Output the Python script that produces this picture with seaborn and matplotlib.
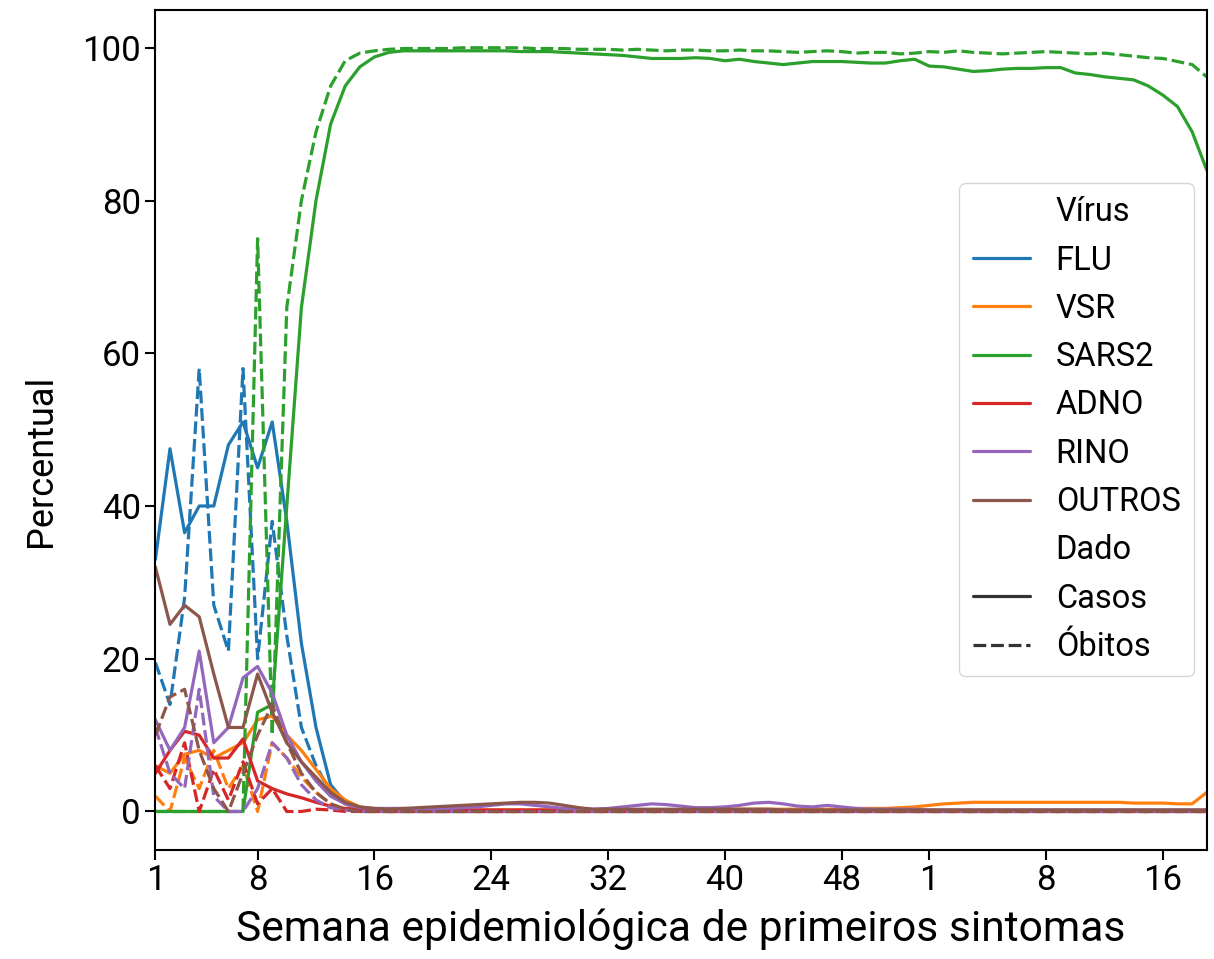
import numpy as np
import pandas as pd
import matplotlib
matplotlib.use('Agg')
import matplotlib.pyplot as plt
import seaborn as sns

# 1. Estilo
sns.set_style('ticks')
plt.rcParams['font.family'] = ['Roboto', 'DejaVu Sans']
plt.rcParams['text.color'] = 'black'
plt.rcParams['axes.labelcolor'] = 'black'
plt.rcParams['xtick.color'] = 'black'
plt.rcParams['ytick.color'] = 'black'

# 2. Dados: percentual por semana epidemiológica (2020 sem. 1 até 2021 sem. 20)
virus = ['FLU', 'VSR', 'SARS2', 'ADNO', 'RINO', 'OUTROS']
dados = ['Casos', 'Óbitos']
xtick_pos = [0, 7, 15, 23, 31, 39, 47, 53, 61, 69]
xtick_lab = ['1', '8', '16', '24', '32', '40', '48', '1', '8', '16']

flu_casos = [
    33, 47.5, 36.5, 40, 40, 48, 51, 45, 51, 38,
    22, 11, 3.5, 1.2, 0.5, 0.3, 0.2, 0.2, 0.1, 0.1,
    0.1, 0.1, 0.1, 0.1, 0.1, 0.1, 0.1, 0.1, 0.1, 0.1,
    0.1, 0.1, 0.1, 0.1, 0.1, 0.1, 0.1, 0.1, 0.1, 0.1,
    0.1, 0.1, 0.1, 0.1, 0.1, 0.1, 0.1, 0.1, 0.1, 0.1,
    0.1, 0.1, 0.1, 0.1, 0.1, 0.1, 0.1, 0.1, 0.1, 0.1,
    0.1, 0.1, 0.1, 0.1, 0.1, 0.1, 0.1, 0.1, 0.1, 0.1,
    0.1, 0.1, 0.1]
flu_obitos = [
    19.5, 14, 28, 58, 27, 21, 58, 20, 38, 23,
    11, 6, 2.5, 1, 0.3, 0.1, 0, 0, 0, 0,
    0, 0, 0, 0, 0, 0, 0, 0, 0, 0,
    0, 0, 0, 0, 0, 0, 0, 0, 0, 0,
    0, 0, 0, 0, 0, 0, 0, 0, 0, 0,
    0, 0, 0, 0, 0, 0, 0, 0, 0, 0,
    0, 0, 0, 0, 0, 0, 0, 0, 0, 0,
    0, 0, 0]
vsr_casos = [
    6, 5, 7.5, 8, 7, 8, 9, 12, 12.5, 10,
    8, 5.5, 3, 1.5, 0.6, 0.3, 0.2, 0.2, 0.2, 0.2,
    0.2, 0.2, 0.2, 0.2, 0.2, 0.2, 0.2, 0.2, 0.2, 0.2,
    0.2, 0.2, 0.2, 0.2, 0.2, 0.2, 0.2, 0.2, 0.3, 0.3,
    0.3, 0.3, 0.3, 0.3, 0.3, 0.3, 0.3, 0.3, 0.4, 0.4,
    0.4, 0.5, 0.6, 0.8, 1.0, 1.1, 1.2, 1.2, 1.2, 1.2,
    1.2, 1.2, 1.2, 1.2, 1.2, 1.2, 1.2, 1.1, 1.1, 1.1,
    1.0, 1.0, 2.5]
vsr_obitos = [
    2, 0, 7, 3, 8, 3, 6, 0, 9, 7,
    4.5, 2.5, 1, 0.3, 0, 0, 0, 0, 0, 0,
    0, 0, 0, 0, 0, 0, 0, 0, 0, 0,
    0, 0, 0, 0, 0, 0, 0, 0, 0, 0,
    0, 0, 0, 0, 0, 0, 0, 0, 0, 0,
    0, 0, 0, 0, 0, 0, 0, 0, 0, 0,
    0, 0, 0, 0, 0, 0, 0, 0, 0, 0,
    0, 0, 0]
sars2_casos = [
    0, 0, 0, 0, 0, 0, 0, 13, 14, 40,
    66, 80, 90, 95, 97.5, 98.8, 99.4, 99.6, 99.6, 99.6,
    99.6, 99.6, 99.6, 99.6, 99.6, 99.5, 99.5, 99.5, 99.4, 99.3,
    99.2, 99.1, 99.0, 98.8, 98.6, 98.6, 98.6, 98.7, 98.6, 98.3,
    98.5, 98.2, 98.0, 97.8, 98.0, 98.2, 98.2, 98.2, 98.1, 98.0,
    98.0, 98.3, 98.5, 97.6, 97.5, 97.2, 96.9, 97.0, 97.2, 97.3,
    97.3, 97.4, 97.4, 96.7, 96.5, 96.2, 96.0, 95.8, 95.0, 93.8,
    92.3, 89.0, 84.0]
sars2_obitos = [
    0, 0, 0, 0, 0, 0, 0, 75, 10, 66,
    80, 89, 95, 98.3, 99.3, 99.6, 99.8, 99.9, 99.9, 99.9,
    99.9, 100, 100, 100, 100, 100, 99.9, 99.9, 99.9, 99.8,
    99.8, 99.8, 99.7, 99.8, 99.7, 99.6, 99.7, 99.7, 99.6, 99.6,
    99.7, 99.6, 99.6, 99.5, 99.4, 99.5, 99.6, 99.5, 99.3, 99.4,
    99.4, 99.2, 99.3, 99.5, 99.4, 99.6, 99.4, 99.3, 99.2, 99.3,
    99.4, 99.5, 99.4, 99.3, 99.2, 99.3, 99.1, 98.9, 98.7, 98.6,
    98.2, 97.8, 96.2]
adno_casos = [
    5, 8, 10.5, 10, 7, 7, 9.5, 4, 3, 2.3,
    1.8, 1.2, 0.7, 0.4, 0.3, 0.2, 0.2, 0.2, 0.2, 0.2,
    0.2, 0.2, 0.2, 0.2, 0.2, 0.2, 0.2, 0.2, 0.2, 0.2,
    0.1, 0.1, 0.1, 0.1, 0.1, 0.1, 0.1, 0.1, 0.1, 0.1,
    0.1, 0.1, 0.1, 0.1, 0.1, 0.1, 0.1, 0.1, 0.1, 0.1,
    0.1, 0.1, 0.1, 0.1, 0.1, 0.1, 0.1, 0.1, 0.1, 0.1,
    0.1, 0.1, 0.1, 0.1, 0.1, 0.1, 0.1, 0.1, 0.1, 0.1,
    0.1, 0.1, 0.1]
adno_obitos = [
    6, 3, 9, 0, 5.5, 1.5, 6.5, 1, 3, 0,
    0, 0.3, 0.2, 0, 0, 0, 0, 0, 0, 0,
    0, 0, 0, 0, 0, 0, 0, 0, 0, 0,
    0, 0, 0, 0, 0, 0, 0, 0, 0, 0,
    0, 0, 0, 0, 0, 0, 0, 0, 0, 0,
    0, 0, 0, 0, 0, 0, 0, 0, 0, 0,
    0, 0, 0, 0, 0, 0, 0, 0, 0, 0,
    0, 0, 0]
rino_casos = [
    12, 8, 11, 21, 9, 11, 17.5, 19, 15.5, 10,
    6.5, 4, 2, 1, 0.5, 0.4, 0.4, 0.4, 0.3, 0.3,
    0.4, 0.5, 0.6, 0.8, 1.0, 1.0, 0.8, 0.6, 0.4, 0.3,
    0.3, 0.4, 0.6, 0.8, 1.0, 0.9, 0.7, 0.5, 0.5, 0.6,
    0.8, 1.1, 1.2, 1.0, 0.7, 0.6, 0.8, 0.6, 0.4, 0.3,
    0.3, 0.3, 0.3, 0.2, 0.2, 0.2, 0.2, 0.2, 0.2, 0.2,
    0.2, 0.2, 0.2, 0.2, 0.2, 0.2, 0.2, 0.2, 0.2, 0.2,
    0.2, 0.2, 0.2]
rino_obitos = [
    11, 5, 3, 16, 2, 0, 0, 3, 9, 7,
    3.5, 1.5, 0.5, 0.2, 0, 0, 0, 0, 0, 0,
    0, 0, 0, 0, 0, 0, 0, 0, 0, 0,
    0, 0, 0, 0, 0, 0, 0, 0, 0, 0,
    0, 0, 0, 0, 0, 0, 0, 0, 0, 0,
    0, 0, 0, 0, 0, 0, 0, 0, 0, 0,
    0, 0, 0, 0, 0, 0, 0, 0, 0, 0,
    0, 0, 0]
outros_casos = [
    32, 24.5, 27, 25.5, 18, 11, 11, 18, 13, 9,
    6.5, 4.5, 2.5, 1.2, 0.6, 0.4, 0.3, 0.4, 0.5, 0.6,
    0.7, 0.8, 0.9, 1.0, 1.1, 1.2, 1.2, 1.1, 0.8, 0.5,
    0.3, 0.3, 0.3, 0.3, 0.3, 0.3, 0.3, 0.3, 0.3, 0.3,
    0.3, 0.3, 0.3, 0.2, 0.2, 0.2, 0.2, 0.2, 0.2, 0.2,
    0.2, 0.2, 0.2, 0.2, 0.2, 0.2, 0.2, 0.2, 0.2, 0.2,
    0.2, 0.2, 0.2, 0.2, 0.2, 0.2, 0.2, 0.2, 0.2, 0.2,
    0.2, 0.2, 0.2]
outros_obitos = [
    10, 15, 16, 8, 3, 0, 5, 10, 14, 9,
    5, 2.5, 1, 0.3, 0, 0, 0, 0, 0, 0,
    0, 0, 0, 0, 0, 0, 0, 0, 0, 0,
    0, 0, 0, 0, 0, 0, 0, 0, 0, 0,
    0, 0, 0, 0, 0, 0, 0, 0, 0, 0,
    0, 0, 0, 0, 0, 0, 0, 0, 0, 0,
    0, 0, 0, 0, 0, 0, 0, 0, 0, 0,
    0, 0, 0]

series = {
    ('FLU', 'Casos'): flu_casos, ('FLU', 'Óbitos'): flu_obitos,
    ('VSR', 'Casos'): vsr_casos, ('VSR', 'Óbitos'): vsr_obitos,
    ('SARS2', 'Casos'): sars2_casos, ('SARS2', 'Óbitos'): sars2_obitos,
    ('ADNO', 'Casos'): adno_casos, ('ADNO', 'Óbitos'): adno_obitos,
    ('RINO', 'Casos'): rino_casos, ('RINO', 'Óbitos'): rino_obitos,
    ('OUTROS', 'Casos'): outros_casos, ('OUTROS', 'Óbitos'): outros_obitos,
}

linhas = []
for (v, d), vals in series.items():
    for i, p in enumerate(vals):
        linhas.append({'Semana': i, 'Vírus': v, 'Dado': d, 'Percentual': p})
df = pd.DataFrame(linhas)

# 3. Gráfico
fig, ax = plt.subplots(figsize=(12.14, 9.59), dpi=100)
fig.subplots_adjust(left=0.128, right=0.994, top=0.99, bottom=0.114)

sns.lineplot(data=df, x='Semana', y='Percentual', hue='Vírus', style='Dado',
             hue_order=virus, style_order=dados, palette='tab10',
             linewidth=2.3, errorbar=None, ax=ax)

ax.set_xlim(0, len(flu_casos) - 1)
ax.set_ylim(-5, 105)
ax.set_xticks(xtick_pos)
ax.set_xticklabels(xtick_lab)
ax.set_xlabel('Semana epidemiológica de primeiros sintomas', fontsize=30.7, labelpad=8)
ax.set_ylabel('Percentual', fontsize=26)
ax.yaxis.set_label_coords(-0.092, 0.463)
ax.tick_params(labelsize=25, length=7, width=1.5)
for s in ax.spines.values():
    s.set_linewidth(1.5)
    s.set_color('black')

sns.move_legend(ax, 'center right', fontsize=23.5, frameon=True,
                handlelength=1.75, borderaxespad=0.4)

fig.savefig('out.png', dpi=100)
